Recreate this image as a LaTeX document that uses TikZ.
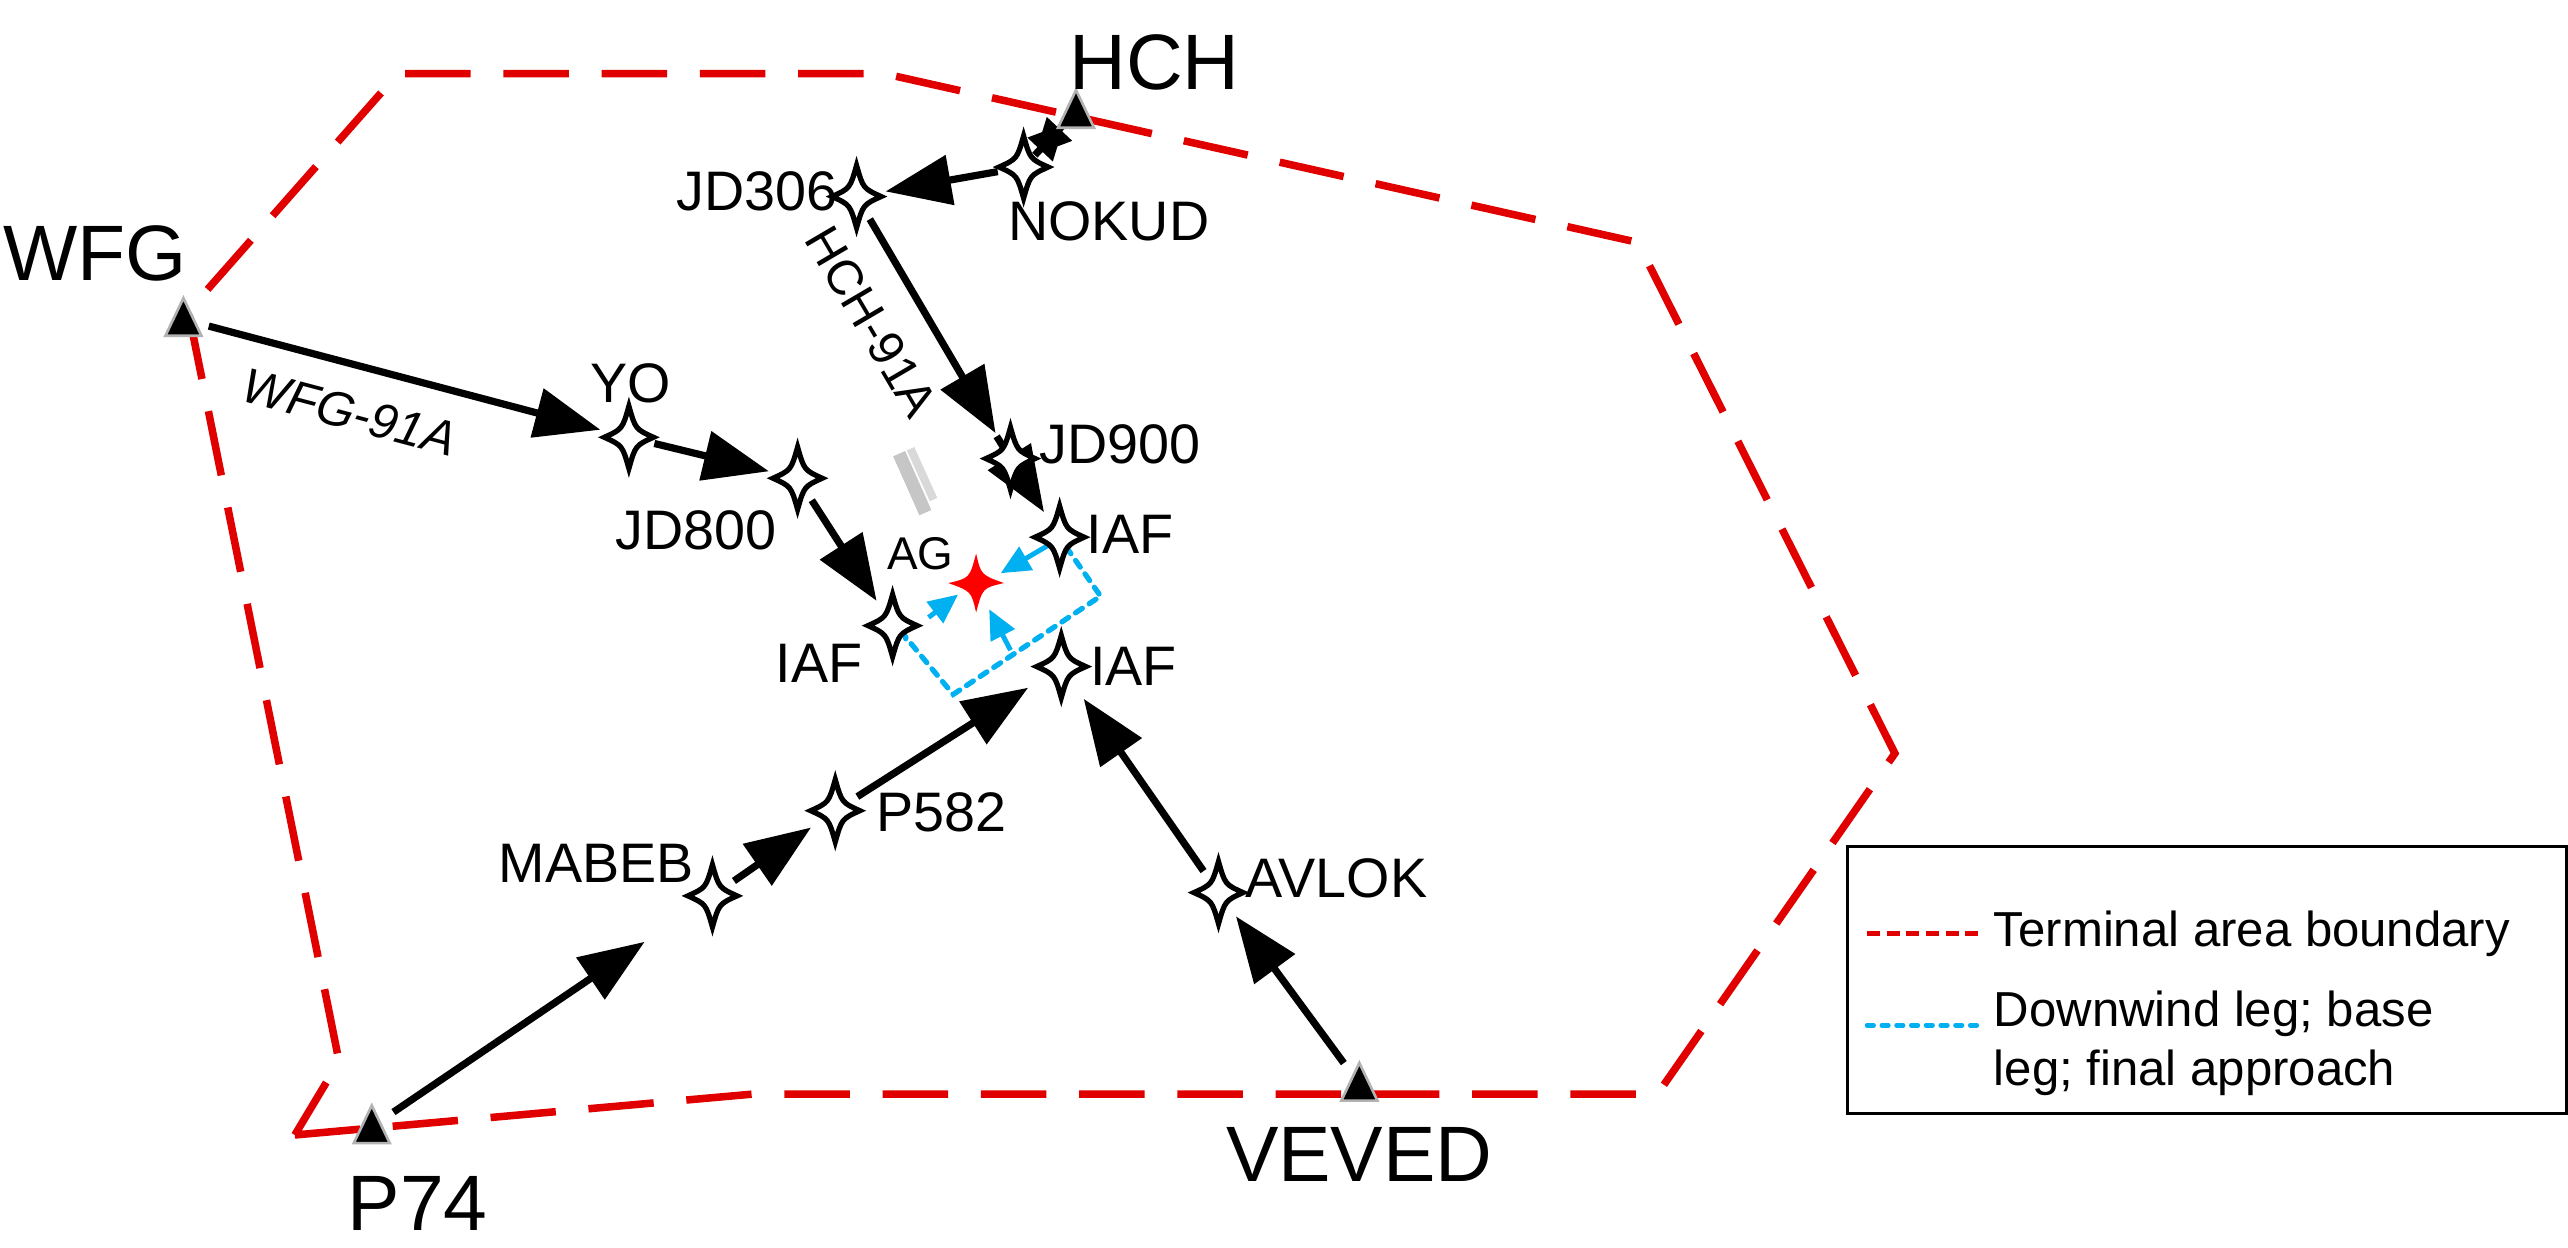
\documentclass[tikz,border=0pt]{standalone}
\usepackage{fontspec}
\setmainfont{Liberation Sans}
\usetikzlibrary{arrows.meta,calc}
\begin{document}
\begin{tikzpicture}[x=0.5pt,y=-0.5pt,
  route/.style={line width=2.2pt,-{Triangle[length=20pt,width=15pt]},shorten >=9pt,shorten <=8pt},
  sroute/.style={line width=2.2pt,-{Triangle[length=11pt,width=10pt]},shorten >=5pt,shorten <=5pt},
  bnd/.style={draw={rgb,255:red,224;green,0;blue,0},line width=2.3pt,dash pattern=on 20pt off 10pt},
  blu/.style={draw={rgb,255:red,0;green,176;blue,240},line width=1.6pt,dash pattern=on 2.5pt off 2.5pt,line cap=round},
  bluarr/.style={draw={rgb,255:red,0;green,176;blue,240},line width=1.5pt,-{Triangle[length=9pt,width=8pt]},fill={rgb,255:red,0;green,176;blue,240}},
  lab/.style={font=\fontsize{17}{17}\selectfont,inner sep=0pt},
  big/.style={font=\fontsize{24}{24}\selectfont,inner sep=0pt},
  wstar/.pic={\draw[line width=1.6pt,fill=white,line join=miter] (0,-19) .. controls (4,-5) .. (15,0) .. controls (4,5) .. (0,19) .. controls (-4,5) .. (-15,0) .. controls (-4,-5) .. cycle;},
  apt/.pic={\draw[fill=black,draw=gray!60,line width=0.8pt] (0,-13) -- (11,10) -- (-11,10) -- cycle;}
]
\useasboundingbox (0,0) rectangle (1568,762);
% boundary
\draw[bnd] (180,693) -- (460,668) -- (1012,668) -- (1157,460) -- (1000,148) -- (540,45) -- (243,45) -- (115,190) -- (207,648) -- cycle;
% coordinates
\coordinate (WFG) at (112,195);
\coordinate (HCH) at (657,68);
\coordinate (P74) at (227,688);
\coordinate (VEVED) at (830,662);
\coordinate (NOKUD) at (625,102);
\coordinate (JD306) at (523,120);
\coordinate (YO) at (384,267);
\coordinate (JD800) at (487,292);
\coordinate (JD900) at (617,280);
\coordinate (IAF1) at (647,328);
\coordinate (IAF2) at (545,382);
\coordinate (IAF3) at (648,407);
\coordinate (P582) at (510,495);
\coordinate (MABEB) at (435,547);
\coordinate (AVLOK) at (744,545);
\coordinate (AG) at (596,356);
\coordinate (c1) at (672,364);
\coordinate (c2) at (582,424);
\coordinate (c3) at (553,389);
% gray bar
\draw[gray!45,line width=4pt] (549,277) -- (565,313);
\draw[gray!30,line width=2.5pt] (556,274) -- (570,305);
% blue legs
\draw[blu] ($(IAF1)+(4,6)$) -- (c1) -- (c2) -- (c3) -- ($(IAF2)+(8,8)$);
\draw[bluarr] (640,333) -- (611,350);
\draw[bluarr] (567,377) -- (585,363);
\draw[bluarr] (617,397) -- (604,372);
% routes
\draw[sroute] (NOKUD) -- (HCH);
\draw[sroute] (HCH) -- (NOKUD);
\draw[route] (NOKUD) -- (JD306);
\draw[route] (JD306) -- node[sloped,below=9pt,font=\fontsize{15}{15}\selectfont,inner sep=0pt,pos=0.38]{HCH-91A} (JD900);
\draw[route] (JD900) -- (IAF1);
\draw[route] (WFG) -- node[sloped,below=8pt,font=\itshape\fontsize{15}{15}\selectfont,inner sep=0pt,pos=0.4]{WFG-91A} (YO);
\draw[route] (YO) -- (JD800);
\draw[route] (JD800) -- (IAF2);
\draw[route,shorten >=25pt] (P74) -- (MABEB);
\draw[route] (MABEB) -- (P582);
\draw[route,shorten >=12pt] (P582) -- (IAF3);
\draw[route] (VEVED) -- (AVLOK);
\draw[route,shorten >=12pt] (AVLOK) -- (IAF3);
% stars
\foreach \p in {NOKUD,JD306,YO,JD800,JD900,IAF1,IAF2,IAF3,P582,MABEB,AVLOK} {\pic at (\p) {wstar};}
\fill[red] (AG) ++(0,-18) .. controls ++(3,13) .. ++(17,18) .. controls ++(-13,3) .. ++(-17,18) .. controls ++(-3,-13) .. ++(-17,-18) .. controls ++(13,-3) .. cycle;
\foreach \p in {WFG,HCH,P74,VEVED} {\pic at (\p) {apt};}
% labels
\node[big] (tHCH) at (705,38) {HCH};
\node[big] (tWFG) at (58,155) {WFG};
\node[big] (tP74) at (255,735) {P74};
\node[big] (tVEVED) at (830,705) {VEVED};
\node[lab] (tJD306) at (462,117) {JD306};
\node[lab] (tNOKUD) at (677,135) {NOKUD};
\node[lab] (tYO) at (385,234) {YO};
\node[lab] (tJD800) at (425,324) {JD800};
\node[lab] (tJD900) at (684,271) {JD900};
\node[lab] (tIAF1) at (690,326) {IAF};
\node[lab] (tAG) at (562,338) {\fontsize{14}{14}\selectfont AG};
\node[lab] (tIAF2) at (500,405) {IAF};
\node[lab] (tIAF3) at (692,407) {IAF};
\node[lab] (tP582) at (575,496) {P582};
\node[lab] (tMABEB) at (364,527) {MABEB};
\node[lab] (tAVLOK) at (816,536) {AVLOK};
% legend
\draw[line width=0.8pt] (1128,517) rectangle (1567,680);
\draw[bnd,line width=1.6pt,dash pattern=on 4pt off 2pt] (1140,570) -- (1210,570);
\node[anchor=west,font=\fontsize{15}{15}\selectfont,inner sep=0pt] (lg1) at (1217,570) {Terminal area boundary};
\draw[blu,line width=1.4pt,dash pattern=on 2pt off 2.5pt] (1140,626) -- (1210,626);
\node[anchor=west,font=\fontsize{15}{18}\selectfont,inner sep=0pt,align=left] (lg2) at (1217,637) {Downwind leg; base\\leg; final approach};
\end{tikzpicture}
\end{document}
